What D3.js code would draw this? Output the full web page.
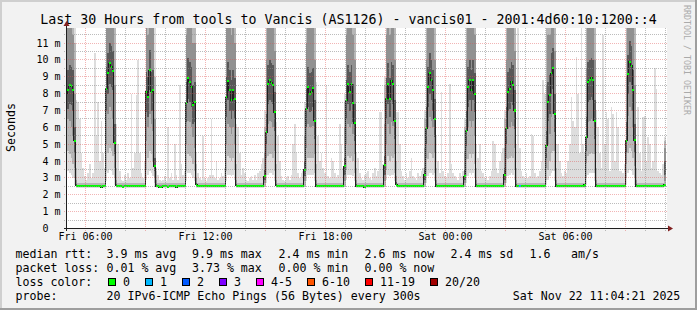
<!DOCTYPE html>
<html>
<head>
<meta charset="utf-8">
<script src="https://cdn.jsdelivr.net/npm/d3@7"></script>
<style>
  body { margin: 0; background: #f2f2f2; }
  text { font-family: "DejaVu Sans Mono", monospace; white-space: pre; fill: #000; }
</style>
</head>
<body>
<svg id="chart" width="697" height="310"></svg>
<script>
"use strict";

// graph window and 5 minute steps (step 0 = Fri 05:00)
const start = new Date(2025, 10, 21, 5, 4, 21);
const end = new Date(2025, 10, 22, 11, 4, 21);
const firstStep = new Date(2025, 10, 21, 5, 0, 0);
const yMax = 11.89;

// median rtt in ms, one row = 2 hours (24 steps)
const median = [
  8.0, 8.2, 8.5, 8.45, 8.2, 5.2, 2.55, 2.5, 2.5, 2.5, 2.5, 2.55, 2.5, 2.5, 2.5, 2.55, 2.5, 2.5, 2.5, 2.5, 2.5, 2.45, 2.5, 2.5,
  8.3, 9.2, 9.8, 9.6, 9.35, 5.1, 2.55, 2.5, 2.5, 2.5, 2.45, 2.5, 2.5, 2.5, 2.5, 2.5, 2.55, 2.5, 2.5, 2.5, 2.5, 2.5, 2.5, 2.5,
  8.1, 7.8, 9.4, 8.1, 8.2, 3.7, 2.5, 2.5, 2.45, 2.45, 2.5, 2.5, 2.5, 2.45, 2.5, 2.5, 2.5, 2.5, 2.45, 2.5, 2.5, 2.5, 2.5, 2.5,
  7.45, 8.9, 8.7, 8.4, 7.3, 7.5, 2.6, 2.5, 2.5, 2.5, 2.5, 2.5, 2.5, 2.5, 2.55, 2.5, 2.5, 2.5, 2.5, 2.5, 2.5, 2.5, 2.5, 2.5,
  7.8, 8.75, 8.2, 7.6, 8.2, 7.7, 2.55, 2.5, 2.5, 2.5, 2.5, 2.5, 2.5, 2.5, 2.5, 2.5, 2.5, 2.5, 2.5, 2.5, 2.5, 2.5, 2.5, 3.1,
  5.7, 8.55, 8.8, 8.65, 8.5, 6.9, 2.55, 2.5, 2.5, 2.5, 2.5, 2.5, 2.55, 2.5, 2.5, 2.5, 2.5, 2.5, 2.5, 2.5, 2.5, 2.5, 2.5, 3.5,
  7.1, 8.4, 8.0, 8.1, 8.35, 6.4, 2.5, 2.5, 2.5, 2.5, 2.5, 2.5, 2.5, 2.5, 2.5, 2.5, 2.5, 2.5, 2.5, 2.5, 2.5, 2.5, 2.5, 3.7,
  7.6, 8.55, 8.1, 8.55, 7.45, 6.25, 2.5, 2.5, 2.5, 2.5, 2.5, 2.45, 2.5, 2.5, 2.5, 2.5, 2.5, 2.5, 2.5, 2.5, 2.5, 2.5, 2.5, 3.75,
  7.7, 8.6, 7.7, 8.75, 8.55, 6.4, 2.6, 2.55, 2.5, 2.5, 2.5, 2.5, 2.5, 2.5, 2.5, 2.5, 2.5, 2.5, 2.5, 2.5, 2.5, 2.5, 2.5, 3.2,
  5.95, 8.4, 9.2, 8.8, 8.2, 6.5, 2.5, 2.5, 2.5, 2.5, 2.5, 2.5, 2.5, 2.5, 2.5, 2.5, 2.5, 2.5, 2.5, 2.5, 2.5, 2.5, 2.5, 3.1,
  5.8, 8.4, 8.8, 8.2, 8.8, 8.0, 2.5, 2.5, 2.5, 2.5, 2.5, 2.5, 2.5, 2.5, 2.5, 2.5, 2.5, 2.5, 2.5, 2.5, 2.5, 2.5, 2.5, 3.2,
  5.95, 8.1, 8.3, 8.7, 8.5, 7.0, 2.5, 2.5, 2.5, 2.5, 2.5, 2.5, 2.5, 2.5, 2.5, 2.5, 2.5, 2.5, 2.5, 2.5, 2.5, 2.5, 2.5, 2.5,
  4.9, 7.5, 7.9, 9.2, 9.5, 6.8, 2.5, 2.5, 2.5, 2.5, 2.5, 2.5, 2.5, 2.5, 2.5, 2.5, 2.5, 2.5, 2.5, 2.5, 2.5, 2.5, 2.5, 2.6,
  5.4, 8.7, 8.8, 8.95, 8.8, 6.4, 2.5, 2.5, 2.5, 2.5, 2.5, 2.5, 2.5, 2.5, 2.5, 2.5, 2.5, 2.5, 2.5, 2.5, 2.5, 2.5, 2.5, 2.5,
  5.2, 9.15, 9.9, 9.65, 8.2, 5.25, 2.5, 2.5, 2.5, 2.5, 2.5, 2.5, 2.5, 2.5, 2.5, 2.5, 2.5, 2.5, 2.5, 2.5, 2.5, 2.5, 2.5, 2.6
];

// slowest of the 20 pings per step (top of the light smoke)
const pingMax = [
  20, 20, 20, 20, 20, 20, 7.6, 7.5, 6.5, 4.5, 3.6, 3.1, 2.9, 3.3, 3.8, 3.0, 3.3, 10.4, 5.5, 7.5, 4.0, 6.4, 4.5, 3.6,
  20, 20, 20, 20, 20, 20, 6.2, 5.0, 3.4, 2.9, 2.8, 3.2, 2.9, 3.3, 3.0, 8.0, 3.6, 4.5, 7.9, 10.0, 4.5, 3.3, 3.0, 4.0,
  20, 20, 20, 20, 20, 20, 3.6, 3.2, 2.9, 2.8, 2.9, 3.1, 2.8, 6.0, 3.0, 3.3, 2.9, 5.0, 3.2, 2.9, 8.5, 3.8, 3.2, 3.4,
  20, 20, 20, 20, 20, 20, 4.5, 3.3, 3.0, 2.9, 5.5, 3.0, 2.8, 3.0, 3.2, 6.5, 3.2, 3.0, 4.0, 2.9, 3.0, 3.3, 3.1, 3.6,
  20, 20, 20, 20, 20, 20, 6.2, 6.0, 4.5, 3.2, 3.6, 3.3, 2.9, 2.8, 3.0, 3.1, 2.9, 3.2, 2.9, 3.3, 3.4, 3.8, 4.2, 7.0,
  20, 20, 20, 20, 20, 20, 6.3, 5.5, 4.0, 3.1, 2.9, 2.8, 3.0, 3.1, 2.9, 3.2, 5.0, 6.2, 4.5, 3.3, 3.0, 3.3, 3.4, 7.5,
  20, 20, 20, 20, 20, 20, 8.7, 5.5, 4.0, 4.5, 3.6, 3.3, 8.5, 3.1, 3.0, 4.2, 4.0, 3.3, 3.0, 3.2, 6.2, 5.0, 3.6, 8.0,
  20, 20, 20, 20, 20, 20, 4.5, 4.2, 3.3, 3.0, 2.9, 3.2, 3.3, 3.4, 3.0, 2.9, 3.3, 3.6, 3.1, 3.4, 6.9, 6.9, 3.8, 9.0,
  20, 20, 20, 20, 20, 20, 6.9, 6.9, 5.0, 3.4, 3.1, 2.9, 3.3, 3.0, 3.4, 4.2, 3.1, 3.0, 2.9, 3.3, 3.1, 3.4, 3.6, 7.0,
  20, 20, 20, 20, 20, 20, 5.5, 4.0, 3.3, 8.1, 3.4, 3.1, 3.0, 3.3, 8.6, 3.8, 3.3, 3.1, 3.0, 2.9, 3.3, 3.1, 3.4, 6.5,
  20, 20, 20, 20, 20, 20, 5.0, 4.2, 5.0, 3.4, 3.3, 3.0, 3.1, 2.9, 3.1, 3.4, 5.2, 5.0, 3.6, 3.3, 4.0, 4.5, 4.8, 7.0,
  20, 20, 20, 20, 20, 20, 5.0, 15, 4.8, 3.4, 3.1, 3.0, 3.3, 3.0, 3.1, 5.6, 5.5, 3.3, 3.0, 3.1, 3.4, 4.0, 8.8, 8.0,
  20, 20, 20, 20, 20, 20, 5.0, 5.0, 4.0, 3.3, 3.1, 3.4, 3.3, 4.0, 5.0, 7.8, 6.4, 6.0, 10.2, 8.0, 4.5, 15, 5.0, 4.5,
  20, 20, 20, 20, 20, 20, 7.0, 6.0, 4.5, 3.6, 11.5, 5.0, 6.9, 6.5, 3.4, 7.2, 6.8, 4.0, 6.9, 6.0, 3.4, 3.4, 3.3, 3.8,
  20, 20, 20, 20, 20, 20, 5.0, 7.2, 4.5, 3.4, 6.6, 6.7, 4.0, 5.4, 5.0, 3.6, 4.0, 9.5, 8.3, 3.4, 3.3, 3.2, 3.8, 5.4
];

// smoke of a quiet step: fastest ping, p10, p25, p40, p60, p75, p90
const quietSmoke = [2.42, 2.45, 2.47, 2.49, 2.52, 2.57, 2.7];

// steps with a wider smoke: [step, fastest, p10, p25, p40, p60, p75, p90]
const smokeRows = [
  [0, 3.3, 4.5, 6.2, 6.9, 9.2, 11.5, 14], [1, 3.4, 4.6, 6.5, 7.1, 9.4, 12, 14], [2, 3.3, 4.4, 6.4, 7.4, 9.7, 12.5, 15],
  [3, 3.2, 4.2, 6.0, 7.3, 9.6, 12, 14], [4, 3.0, 3.8, 5.5, 7.0, 9.4, 11.5, 14], [5, 2.6, 3.0, 3.6, 4.5, 6.0, 8.0, 11],
  [6, 2.42, 2.46, 2.5, 2.53, 2.62, 2.9, 3.6],
  [24, 2.8, 3.4, 5.0, 7.0, 9.6, 12, 14], [25, 3.3, 4.5, 6.8, 8.0, 10.4, 13, 15], [26, 3.5, 4.8, 7.2, 8.6, 11.0, 13, 16],
  [27, 3.4, 4.6, 7.0, 8.4, 10.8, 13, 15], [28, 3.2, 4.3, 6.5, 8.2, 10.5, 12.5, 15], [29, 2.6, 3.0, 3.6, 4.4, 6.2, 8.5, 12],
  [30, 2.42, 2.46, 2.5, 2.53, 2.62, 2.9, 3.6],
  [48, 2.9, 3.5, 5.2, 6.9, 9.3, 12, 14], [49, 3.2, 4.2, 6.0, 6.6, 9.0, 11.5, 14], [50, 3.4, 4.6, 6.8, 8.2, 10.6, 13, 15],
  [51, 3.3, 4.4, 6.2, 7.0, 9.3, 12, 14], [52, 3.1, 4.0, 5.8, 7.0, 9.4, 12, 14], [53, 2.5, 2.7, 3.0, 3.4, 4.2, 6.5, 9],
  [54, 2.42, 2.46, 2.5, 2.53, 2.62, 2.9, 3.4],
  [72, 2.8, 3.4, 5.0, 6.3, 8.7, 11.5, 14], [73, 3.3, 4.4, 6.4, 7.7, 10.1, 12.5, 15], [74, 3.3, 4.3, 6.3, 7.5, 9.9, 12.5, 15],
  [75, 3.2, 4.2, 6.0, 7.2, 9.6, 12, 14], [76, 3.0, 3.8, 5.4, 6.2, 8.5, 11, 14], [77, 2.8, 3.4, 4.8, 6.3, 8.7, 11, 13],
  [78, 2.42, 2.46, 2.52, 2.56, 2.7, 3.0, 3.8],
  [96, 2.8, 3.4, 5.0, 6.6, 9.0, 12, 14], [97, 3.2, 4.3, 6.2, 7.6, 9.9, 12.5, 15], [98, 3.2, 4.2, 6.0, 7.0, 9.4, 12, 14],
  [99, 3.1, 4.0, 5.6, 6.5, 8.8, 11.5, 14], [100, 3.2, 4.2, 6.0, 7.0, 9.4, 12, 14], [101, 2.9, 3.5, 5.0, 6.5, 8.9, 11, 13],
  [102, 2.42, 2.46, 2.5, 2.53, 2.62, 2.9, 3.8],
  [119, 2.45, 2.5, 2.7, 2.9, 3.5, 4.5, 6.0],
  [120, 2.7, 3.2, 4.2, 5.0, 6.8, 10, 13], [121, 3.2, 4.3, 6.2, 7.4, 9.7, 12.5, 15], [122, 3.3, 4.4, 6.4, 7.6, 10.0, 12.5, 15],
  [123, 3.3, 4.4, 6.3, 7.5, 9.8, 12.5, 15], [124, 3.2, 4.2, 6.0, 7.4, 9.7, 12, 14], [125, 2.8, 3.4, 4.6, 5.8, 8.1, 10.5, 13],
  [126, 2.42, 2.46, 2.5, 2.53, 2.62, 2.9, 3.8],
  [143, 2.45, 2.5, 2.8, 3.1, 4.0, 5.5, 7.0],
  [144, 2.8, 3.4, 4.8, 6.0, 8.3, 11, 14], [145, 3.2, 4.2, 6.2, 7.2, 9.6, 12, 14], [146, 3.2, 4.2, 6.0, 6.9, 9.2, 12, 14],
  [147, 3.2, 4.2, 6.0, 7.0, 9.3, 12, 14], [148, 3.2, 4.2, 6.1, 7.2, 9.5, 12, 14], [149, 2.8, 3.3, 4.4, 5.3, 7.6, 10, 13],
  [150, 2.42, 2.46, 2.5, 2.53, 2.62, 2.9, 3.8],
  [167, 2.45, 2.5, 2.8, 3.2, 4.2, 6.0, 7.5],
  [168, 2.9, 3.5, 5.0, 6.5, 8.8, 11.5, 14], [169, 3.2, 4.3, 6.2, 7.4, 9.7, 12.5, 15], [170, 3.2, 4.2, 6.0, 7.0, 9.3, 12, 14],
  [171, 3.2, 4.3, 6.2, 7.4, 9.7, 12.5, 15], [172, 3.1, 4.0, 5.6, 6.3, 8.6, 11.5, 14], [173, 2.8, 3.3, 4.4, 5.2, 7.4, 10, 13],
  [174, 2.42, 2.46, 2.5, 2.53, 2.62, 2.9, 3.6],
  [191, 2.45, 2.5, 2.8, 3.2, 4.3, 6.2, 8.5],
  [192, 2.9, 3.5, 5.0, 6.5, 8.9, 11.5, 14], [193, 3.2, 4.3, 6.2, 7.4, 9.8, 12.5, 15], [194, 3.1, 4.0, 5.6, 6.6, 8.9, 11.5, 14],
  [195, 3.2, 4.3, 6.3, 7.6, 9.9, 12.5, 15], [196, 3.2, 4.2, 6.1, 7.4, 9.7, 12, 14], [197, 2.8, 3.3, 4.4, 5.3, 7.6, 10, 13],
  [198, 2.45, 2.5, 2.55, 2.6, 2.75, 3.1, 4.0],
  [215, 2.45, 2.5, 2.7, 2.9, 3.6, 4.8, 6.5],
  [216, 2.7, 3.1, 4.2, 5.0, 7.2, 10, 13], [217, 3.1, 4.1, 6.0, 7.2, 9.6, 12, 14], [218, 3.3, 4.5, 6.6, 8.0, 10.4, 13, 15],
  [219, 3.3, 4.4, 6.4, 7.6, 10.0, 12.5, 15], [220, 3.2, 4.2, 6.0, 7.0, 9.4, 12, 14], [221, 2.8, 3.3, 4.5, 5.4, 7.7, 10, 13],
  [222, 2.42, 2.46, 2.5, 2.53, 2.62, 2.9, 3.6],
  [239, 2.45, 2.5, 2.7, 2.9, 3.5, 4.6, 6.0],
  [240, 2.7, 3.1, 4.1, 4.9, 7.0, 10, 13], [241, 3.1, 4.1, 6.0, 7.2, 9.6, 12, 14], [242, 3.3, 4.4, 6.4, 7.6, 10.0, 12.5, 15],
  [243, 3.2, 4.2, 6.0, 7.0, 9.4, 12, 14], [244, 3.3, 4.4, 6.4, 7.6, 10.0, 12.5, 15], [245, 3.0, 3.8, 5.5, 6.9, 9.2, 11.5, 14],
  [246, 2.42, 2.46, 2.5, 2.53, 2.62, 2.9, 3.6],
  [263, 2.45, 2.5, 2.7, 2.9, 3.6, 4.8, 6.5],
  [264, 2.7, 3.1, 4.2, 5.0, 7.2, 10, 13], [265, 3.1, 4.1, 5.9, 7.0, 9.3, 12, 14], [266, 3.2, 4.2, 6.0, 7.1, 9.5, 12, 14],
  [267, 3.3, 4.3, 6.3, 7.5, 9.9, 12.5, 15], [268, 3.2, 4.2, 6.1, 7.3, 9.7, 12, 14], [269, 2.9, 3.5, 4.8, 5.9, 8.2, 10.5, 13],
  [270, 2.42, 2.46, 2.5, 2.53, 2.62, 2.9, 3.6],
  [288, 2.6, 2.9, 3.6, 4.2, 5.8, 8.5, 12], [289, 2.9, 3.5, 5.0, 6.4, 8.7, 11.5, 14], [290, 3.1, 4.0, 5.6, 6.8, 9.1, 11.5, 14],
  [291, 3.3, 4.5, 6.6, 8.0, 10.4, 13, 15], [292, 3.4, 4.6, 6.8, 8.3, 10.7, 13, 15], [293, 2.8, 3.4, 4.6, 5.7, 8.0, 10.5, 13],
  [294, 2.42, 2.46, 2.5, 2.53, 2.62, 2.9, 3.6],
  [312, 2.6, 3.0, 3.9, 4.6, 6.6, 9.5, 13], [313, 3.2, 4.3, 6.3, 7.5, 9.9, 12.5, 15], [314, 3.3, 4.4, 6.4, 7.6, 10.0, 12.5, 15],
  [315, 3.3, 4.5, 6.5, 7.8, 10.1, 13, 15], [316, 3.3, 4.4, 6.4, 7.6, 10.0, 12.5, 15], [317, 2.8, 3.3, 4.4, 5.3, 7.6, 10, 13],
  [318, 2.42, 2.46, 2.5, 2.53, 2.62, 2.9, 3.6],
  [336, 2.6, 3.0, 3.8, 4.5, 6.3, 9.0, 12.5], [337, 3.3, 4.5, 6.7, 8.0, 10.3, 13, 15], [338, 3.5, 4.8, 7.2, 8.7, 11.1, 13.5, 16],
  [339, 3.4, 4.6, 7.0, 8.5, 10.8, 13, 15], [340, 3.2, 4.2, 6.0, 7.0, 9.4, 12, 14], [341, 2.6, 3.0, 3.7, 4.5, 6.2, 8.5, 12],
  [342, 2.42, 2.46, 2.5, 2.53, 2.62, 2.9, 3.6],
  [359, 2.45, 2.5, 2.8, 3.2, 4.0, 4.8, 5.2]
];

// steps that lost pings: [step, lost of 20]
const lossSteps = [[272, 1]];

const yTicks = [0, 1, 2, 3, 4, 5, 6, 7, 8, 9, 10, 11];
const lossLabels = ["0", "1", "2", "3", "4-5", "6-10", "11-19", "20/20"];
const lossColors = ["#00ff00", "#00b8ff", "#0059ff", "#7e00ff", "#ff00ff", "#ff5500", "#ff0000", "#a10000"];
const lossLimits = [0, 1, 2, 3, 5, 10, 19, 20];
const rttStats = ["3.9 ms avg", "9.9 ms max", "2.4 ms min", "2.6 ms now", "2.4 ms sd", "1.6", "am/s"];
const lossStats = ["0.01 % avg", "3.73 % max", "0.00 % min", "0.00 % now"];
const titleText = "Last 30 Hours from tools to Vancis (AS1126) - vancis01 - 2001:4d60:10:1200::4";
const probeText = "20 IPv6-ICMP Echo Pings (56 Bytes) every 300s";
const stampText = "Sat Nov 22 11:04:21 2025";

const svg = d3.select("#chart");
const W = 697, H = 310;
const pLeft = 67, pRight = 667, pTop = 28, pBottom = 228.6;

const x = d3.scaleTime().domain([start, end]).range([pLeft, pRight]);
const y = d3.scaleLinear().domain([0, yMax]).range([pBottom, pTop]);

// frame
svg.append("rect").attr("width", W).attr("height", H).attr("fill", "#f2f2f2");
svg.append("path").attr("d", `M1,${H} V1 H${W}`).attr("fill", "none")
  .attr("stroke", "#cfcfcf").attr("stroke-width", 2);
svg.append("path").attr("d", `M0,${H - 1} H${W - 1} V0`).attr("fill", "none")
  .attr("stroke", "#9e9e9e").attr("stroke-width", 2);
svg.append("rect").attr("x", pLeft).attr("y", pTop).attr("width", pRight - pLeft).attr("height", 201)
  .attr("fill", "#ffffff");

svg.append("clipPath").attr("id", "plot").append("rect")
  .attr("x", pLeft).attr("y", pTop).attr("width", pRight - pLeft).attr("height", 200.6);

// step table
const stepMs = 300000;
const smokeMap = new Map(smokeRows.map(r => [r[0], r.slice(1)]));
const lossMap = new Map(lossSteps);
const steps = median.map((m, i) => ({
  t: new Date(firstStep.getTime() + i * stepMs),
  med: m,
  max: pingMax[i],
  q: smokeMap.get(i) || quietSmoke,
  loss: lossMap.get(i) || 0
}));
steps.push(Object.assign({}, steps[steps.length - 1], {t: new Date(firstStep.getTime() + steps.length * stepMs)}));

const clip = v => Math.min(v, yMax + 0.5);
const data = svg.append("g").attr("clip-path", "url(#plot)");

const bands = [
  {lo: d => d.q[0], hi: d => d.max, color: "#dddddd"},
  {lo: d => d.q[1], hi: d => d.q[6], color: "#b7b7b7"},
  {lo: d => d.q[2], hi: d => d.q[5], color: "#919191"},
  {lo: d => d.q[3], hi: d => d.q[4], color: "#585858"}
];
bands.forEach(b => {
  data.append("path")
    .datum(steps)
    .attr("fill", b.color)
    .attr("shape-rendering", "crispEdges")
    .attr("d", d3.area()
      .curve(d3.curveStepAfter)
      .x(d => x(d.t))
      .y0(d => y(b.lo(d)))
      .y1(d => y(clip(b.hi(d)))));
});

// median line
data.append("path")
  .datum(steps)
  .attr("fill", "none")
  .attr("stroke", "#202020")
  .attr("stroke-width", 1)
  .attr("shape-rendering", "crispEdges")
  .attr("d", d3.line().curve(d3.curveStepAfter).x(d => x(d.t)).y(d => y(d.med)));

// loss coloured median band
const sw = yMax / 200;
data.append("path")
  .datum(steps)
  .attr("fill", lossColors[0])
  .attr("shape-rendering", "crispEdges")
  .attr("d", d3.area().curve(d3.curveStepAfter)
    .x(d => x(d.t)).y0(d => y(d.med - sw)).y1(d => y(d.med + sw)));
const lossColor = n => lossColors[lossLimits.findIndex(l => n <= l)];
data.selectAll("rect.loss")
  .data(steps.slice(0, -1).filter(d => d.loss > 0))
  .join("rect")
  .attr("class", "loss")
  .attr("x", d => x(d.t))
  .attr("width", d => x(new Date(d.t.getTime() + stepMs)) - x(d.t))
  .attr("y", d => y(d.med + sw))
  .attr("height", d => y(d.med - sw) - y(d.med + sw))
  .attr("fill", d => lossColor(d.loss))
  .attr("shape-rendering", "crispEdges");

// grid
const majorCol = "rgba(222,79,79,0.42)", minorCol = "rgba(143,143,143,0.6)";
const grid = svg.append("g").attr("stroke-dasharray", "1,1").attr("shape-rendering", "crispEdges");
const hours = d3.timeHour.every(1).range(start, end);
hours.forEach(h => {
  const px = Math.floor(x(h)) + 0.5;
  const major = h.getHours() % 3 === 0;
  grid.append("line")
    .attr("x1", px).attr("x2", px).attr("y1", pTop).attr("y2", 231)
    .attr("stroke", major ? majorCol : minorCol);
});
d3.range(1, 24).map(v => v / 2).forEach(v => {
  const py = Math.floor(y(v)) + 0.5;
  const major = Number.isInteger(v);
  grid.append("line")
    .attr("x1", 64).attr("x2", pRight).attr("y1", py).attr("y2", py)
    .attr("stroke", major ? majorCol : minorCol);
});

// axes
const axisY0 = Math.floor(y(0)) + 0.5;
svg.append("line").attr("x1", 64).attr("x2", 670).attr("y1", axisY0).attr("y2", axisY0)
  .attr("stroke", "#1f1f1f").attr("shape-rendering", "crispEdges");
svg.append("line").attr("x1", pLeft - 0.5).attr("x2", pLeft - 0.5).attr("y1", 231).attr("y2", 24)
  .attr("stroke", "#1f1f1f").attr("shape-rendering", "crispEdges");
svg.append("path").attr("d", `M668,${axisY0 - 3} L673,${axisY0} L668,${axisY0 + 3} Z`).attr("fill", "#801f1f");
svg.append("path").attr("d", `M${pLeft - 3.5},26 L${pLeft - 0.5},21 L${pLeft + 2.5},26 Z`).attr("fill", "#801f1f");

svg.append("g").selectAll("text")
  .data(yTicks)
  .join("text")
  .attr("x", 60.5)
  .attr("y", d => Math.floor(y(d)) + 4)
  .attr("text-anchor", "end")
  .attr("font-size", 10)
  .text(d => d === 0 ? "0  " : `${d} m`);

const xLabels = hours.filter(h => h.getHours() % 6 === 0);
svg.append("g").selectAll("text")
  .data(xLabels)
  .join("text")
  .attr("x", d => Math.floor(x(d)) + 0.5)
  .attr("y", 240)
  .attr("text-anchor", "middle")
  .attr("font-size", 10)
  .text(d3.timeFormat("%a %H:%M"));

// titles
svg.append("text").attr("x", 348.5).attr("y", 24).attr("text-anchor", "middle")
  .attr("font-size", 13.3).text(titleText);
svg.append("text").attr("transform", "translate(15,127.5) rotate(-90)").attr("text-anchor", "middle")
  .attr("font-size", 11.6).text("Seconds");
svg.append("text").attr("transform", "translate(683.5,5) rotate(90)")
  .attr("font-size", 8.3).style("fill", "#aaaaaa").text("RRDTOOL / TOBI OETIKER");

// legend
const fs = 11.6, cw = 7;
const rows = [257.5, 271.5, 285.5, 299.5];
const cols = [106.5, 192, 278.5, 364.5, 450.5, 529.5, 571];
const leg = svg.append("g").attr("font-size", fs);
leg.append("text").attr("x", 15.5).attr("y", rows[0]).text("median rtt:");
rttStats.forEach((s, i) => leg.append("text").attr("x", cols[i]).attr("y", rows[0]).text(s));
leg.append("text").attr("x", 15.5).attr("y", rows[1]).text("packet loss:");
lossStats.forEach((s, i) => leg.append("text").attr("x", cols[i]).attr("y", rows[1]).text(s));
leg.append("text").attr("x", 15.5).attr("y", rows[2]).text("loss color:");
let sx = 108;
lossLabels.forEach((l, i) => {
  leg.append("rect").attr("x", sx + 0.5).attr("y", 278.5).attr("width", 7).attr("height", 7)
    .attr("fill", lossColors[i]).attr("stroke", "#000").attr("shape-rendering", "crispEdges");
  leg.append("text").attr("x", sx + 15).attr("y", rows[2]).text(l);
  sx += 15 + l.length * cw + 15;
});
leg.append("text").attr("x", 15.5).attr("y", rows[3]).text("probe:");
leg.append("text").attr("x", cols[0]).attr("y", rows[3]).text(probeText);
leg.append("text").attr("x", 512.8).attr("y", rows[3]).text(stampText);
</script>
</body>
</html>
